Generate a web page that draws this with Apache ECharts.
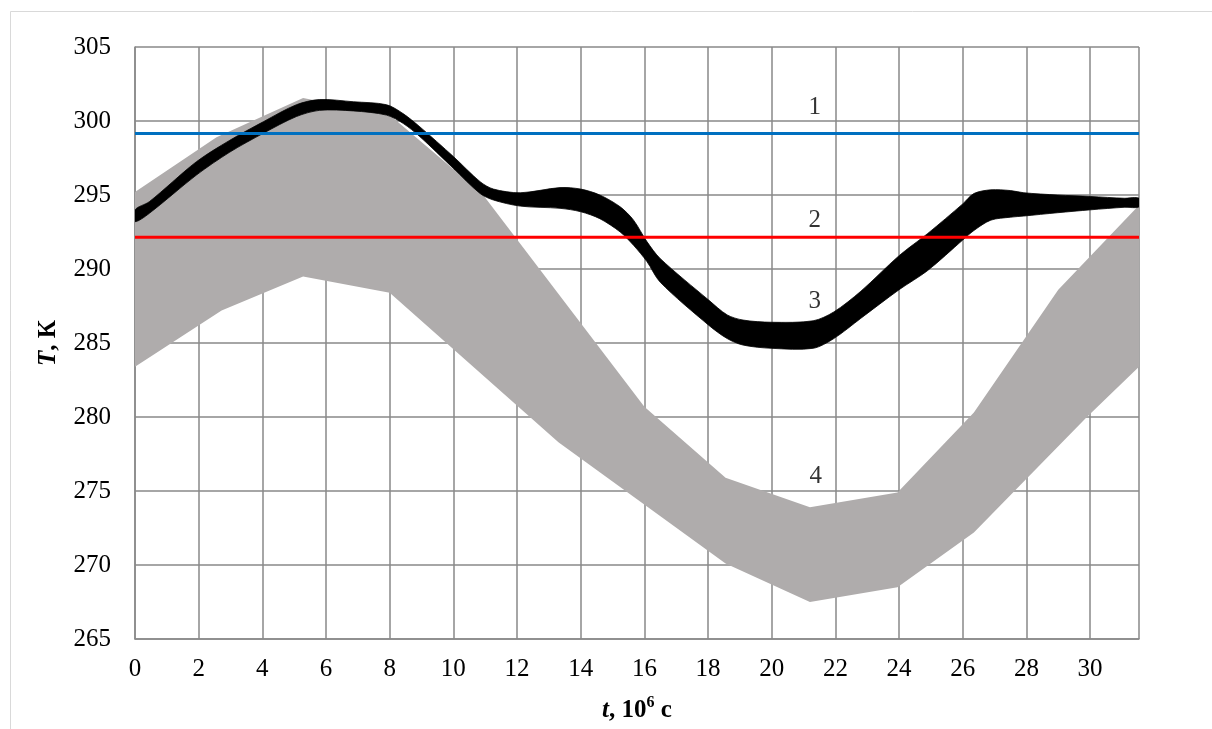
<!DOCTYPE html>
<html><head><meta charset="utf-8">
<script src="https://cdn.jsdelivr.net/npm/echarts@6/dist/echarts.min.js"></script>
<style>html,body{margin:0;padding:0;background:#fff}#c{width:1212px;height:729px}</style>
</head><body><div id="c"></div>
<script>
// ---- data ----
const tMax = 31.536;              // 10^6 s (one year)
const yTicks = [265, 270, 275, 280, 285, 290, 295, 300, 305];
const xTickLabels = [0, 2, 4, 6, 8, 10, 12, 14, 16, 18, 20, 22, 24, 26, 28, 30];

const line1Value = 299.15;        // curve 1 (blue)
const line2Value = 292.15;        // curve 2 (red)

// curve 4 (grey band) edges
const grayUpperT = [0, 2.56, 5.28, 8.0, 10.9, 16.0, 18.55, 21.2, 23.95, 26.35, 27.5, 29.0, 31.536];
const grayUpperV = [295.2, 298.9, 301.55, 300.4, 295.1, 280.7, 275.9, 273.9, 274.9, 280.3, 283.9, 288.6, 294.3];
const grayLowerT = [0, 2.72, 5.28, 8.0, 13.3, 18.55, 21.2, 23.95, 26.35, 29.9, 31.536];
const grayLowerV = [283.4, 287.2, 289.5, 288.4, 278.3, 270.1, 267.5, 268.5, 272.2, 280.0, 283.4];

// curve 3 (black band) edges
const blackT     = [0, 0.45, 1.93, 2.98, 4.03, 5.07, 5.8, 6.86, 7.9, 8.42, 8.95, 10.0, 10.84, 11.26, 12.1, 13.35, 14.0, 14.6, 15.24, 15.66, 16.08, 16.5, 18.02, 18.6, 19.1, 20.0, 21.3, 21.95, 22.8, 24.0, 24.9, 26.0, 26.35, 26.88, 27.5, 27.92, 28.97, 30.02, 31.07, 31.536];
const blackUpper = [294.0, 294.55, 297.25, 298.7, 299.95, 301.1, 301.45, 301.3, 301.1, 300.5, 299.6, 297.6, 295.9, 295.4, 295.15, 295.5, 295.4, 295.0, 294.2, 293.3, 291.85, 290.7, 287.9, 286.9, 286.55, 286.4, 286.5, 287.1, 288.5, 290.9, 292.4, 294.4, 295.1, 295.35, 295.3, 295.15, 295.0, 294.9, 294.78, 294.78];
const blackLower = [293.2, 293.76, 296.35, 297.9, 299.17, 300.3, 300.72, 300.68, 300.4, 299.84, 298.94, 296.8, 295.1, 294.66, 294.25, 294.1, 293.87, 293.4, 292.5, 291.6, 290.5, 289.1, 286.2, 285.3, 284.86, 284.64, 284.64, 285.3, 286.67, 288.6, 289.9, 291.96, 292.6, 293.3, 293.5, 293.58, 293.8, 294.0, 294.17, 294.2];

const curveNames = ['1', '2', '3', '4'];

// ---- chart ----
const FONT = "'Liberation Serif', 'Times New Roman', serif";
const grayPoly = grayUpperT.map((t, i) => [t, grayUpperV[i]])
  .concat(grayLowerT.map((t, i) => [t, grayLowerV[i]]).reverse());
const blackPoly = blackT.map((t, i) => [t, blackUpper[i]])
  .concat(blackT.map((t, i) => [t, blackLower[i]]).reverse());

function bandSeries(name, poly, color, smooth, z) {
  return {
    type: 'custom', name: name, z: z, silent: true, clip: true,
    encode: {x: 0, y: 1},
    data: poly,
    renderItem: function (params, api) {
      if (params.dataIndex !== 0) return null;
      const pts = poly.map(p => api.coord(p));
      return {type: 'polygon', shape: {points: pts, smooth: smooth}, style: {fill: color, stroke: color, lineWidth: smooth ? 0.8 : 0}};
    }
  };
}

const chart = echarts.init(document.getElementById('c'), null, {renderer: 'canvas'});
chart.setOption({
  animation: false,
  backgroundColor: '#fff',
  textStyle: {fontFamily: FONT},
  graphic: [{
    type: 'rect', silent: true, z: -10,
    shape: {x: 10.5, y: 11.5, width: 1400, height: 900},
    style: {fill: 'none', stroke: '#d9d9d9', lineWidth: 1}
  }],
  grid: {left: 135, top: 47, right: 73, bottom: 90, containLabel: false},
  xAxis: {
    type: 'value', min: 0, max: tMax, interval: 2,
    axisLine: {show: true, lineStyle: {color: '#898989', width: 1.5}},
    axisTick: {show: false},
    splitLine: {show: true, lineStyle: {color: '#898989', width: 1.5}},
    axisLabel: {
      fontFamily: FONT, fontSize: 25, color: '#000', margin: 18,
      showMaxLabel: false,
      formatter: v => (xTickLabels.indexOf(Math.round(v)) >= 0 && Math.abs(v - Math.round(v)) < 1e-6) ? String(Math.round(v)) : ''
    },
    name: '{i|t}{b|, 10}{s|6}{b| с}',
    nameLocation: 'middle', nameGap: 56,
    nameTextStyle: {
      rich: {
        i: {fontFamily: FONT, fontSize: 25, fontWeight: 'bold', fontStyle: 'italic', color: '#000', lineHeight: 28, verticalAlign: 'bottom'},
        b: {fontFamily: FONT, fontSize: 25, fontWeight: 'bold', color: '#000', lineHeight: 28, verticalAlign: 'bottom'},
        s: {fontFamily: FONT, fontSize: 16, fontWeight: 'bold', color: '#000', lineHeight: 28, verticalAlign: 'top', padding: [0, 0, 10, 0]}
      }
    }
  },
  yAxis: {
    type: 'value', min: yTicks[0], max: yTicks[yTicks.length - 1], interval: 5,
    axisLine: {show: true, lineStyle: {color: '#898989', width: 1.5}},
    axisTick: {show: false},
    splitLine: {show: true, lineStyle: {color: '#898989', width: 1.5}},
    axisLabel: {fontFamily: FONT, fontSize: 25, color: '#000', margin: 24},
    name: '{i|T}{b|, К}',
    nameLocation: 'middle', nameGap: 74, nameRotate: 90,
    nameTextStyle: {
      rich: {
        i: {fontFamily: FONT, fontSize: 25, fontWeight: 'bold', fontStyle: 'italic', color: '#000'},
        b: {fontFamily: FONT, fontSize: 25, fontWeight: 'bold', color: '#000'}
      }
    }
  },
  series: [
    bandSeries('4', grayPoly, '#AFACAC', 0, 1),
    bandSeries('3', blackPoly, '#000000', 0.3, 3),
    {
      type: 'line', name: '1', z: 5, symbol: 'none', silent: true,
      lineStyle: {color: '#0070C0', width: 3},
      data: [[0, line1Value], [tMax, line1Value]]
    },
    {
      type: 'line', name: '2', z: 5, symbol: 'none', silent: true,
      lineStyle: {color: '#FF0000', width: 3},
      data: [[0, line2Value], [tMax, line2Value]]
    },
    {
      type: 'scatter', name: 'labels', z: 6, silent: true, symbolSize: 0,
      data: [
        [21.35, 300.95, curveNames[0]],
        [21.35, 293.3, curveNames[1]],
        [21.35, 287.8, curveNames[2]],
        [21.38, 276.0, curveNames[3]]
      ],
      label: {
        show: true, position: 'inside', formatter: p => p.data[2],
        fontFamily: FONT, fontSize: 25, color: '#000'
      }
    }
  ]
});
</script>
</body></html>
